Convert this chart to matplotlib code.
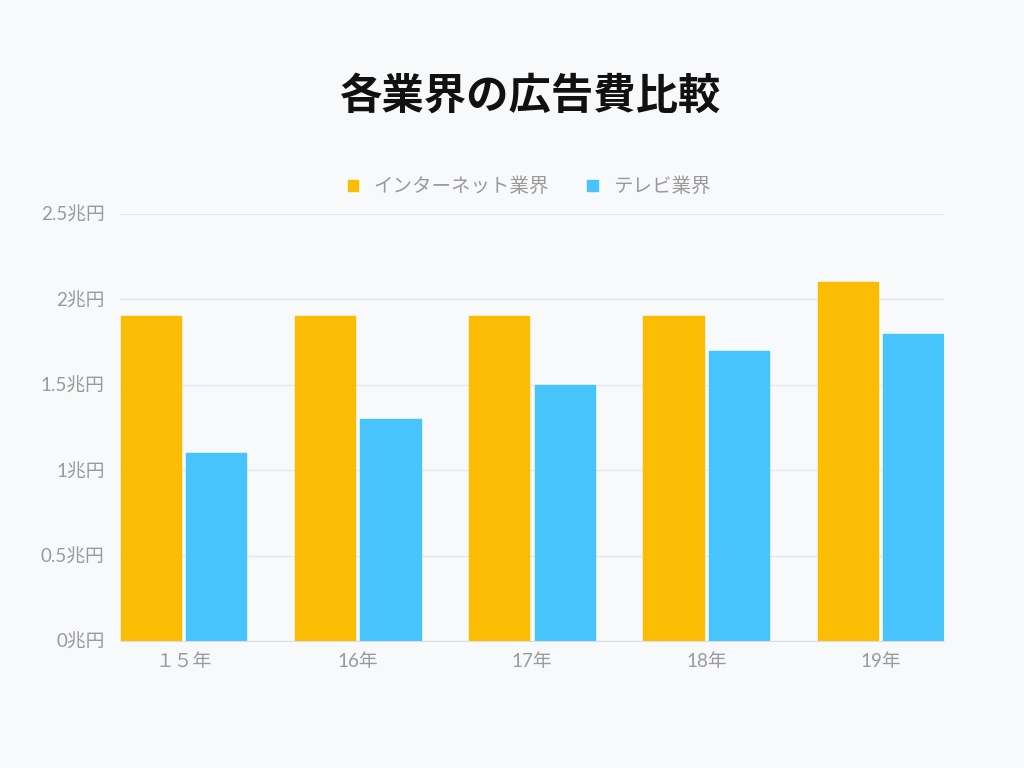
import numpy as np
import matplotlib
matplotlib.use('Agg')
import matplotlib.pyplot as plt

plt.rcParams['font.family'] = ['Lato', 'Noto Sans CJK JP', 'DejaVu Sans']

# データ
years = ['１５年', '16年', '17年', '18年', '19年']
internet = [1.9, 1.9, 1.9, 1.9, 2.1]
tv = [1.1, 1.3, 1.5, 1.7, 1.8]
series_names = ['インターネット業界', 'テレビ業界']
yticks = [0, 0.5, 1, 1.5, 2, 2.5]
ytick_labels = ['0兆円', '0.5兆円', '1兆円', '1.5兆円', '2兆円', '2.5兆円']

bg = '#f8f9fb'
gold = '#fabd04'
blue = '#48c4fd'
gray = '#9a9a9a'

fig = plt.figure(figsize=(10.24, 7.68), dpi=100, facecolor=bg)
ax = fig.add_axes([120 / 1024, 1 - 641 / 768, 824 / 1024, 427 / 768])
ax.set_facecolor(bg)

x = np.arange(len(years))
w = 0.345
off = 0.188
ax.bar(x - off, internet, width=w, color=gold, edgecolor=gold, linewidth=1.0,
       joinstyle='round', label=series_names[0], zorder=3)
ax.bar(x + off, tv, width=w, color=blue, edgecolor=blue, linewidth=1.0,
       joinstyle='round', label=series_names[1], zorder=3)

ax.set_xlim(-0.364, len(years) - 1 + 0.364)
ax.set_ylim(0, 2.5)
ax.set_yticks(yticks)
ax.set_yticklabels(ytick_labels)
ax.set_xticks(x)
ax.set_xticklabels(years)
ax.tick_params(axis='both', length=0, colors=gray, labelsize=13.5)
ax.tick_params(axis='y', pad=11)
ax.tick_params(axis='x', pad=9)
ax.grid(axis='y', color='#e6e7ea', linewidth=1, zorder=0)
for s in ['top', 'right', 'left']:
    ax.spines[s].set_visible(False)
ax.spines['bottom'].set_color('#dcdde0')
ax.spines['bottom'].set_zorder(4)

fig.text(531 / 1024, 1 - 97 / 768, '各業界の広告費比較', ha='center', va='center',
         fontsize=30.5, fontweight='bold', color='#111111',
         family=['Noto Sans CJK JP', 'DejaVu Sans'])

leg = fig.legend(loc='center', bbox_to_anchor=(529 / 1024, 1 - 186 / 768), ncol=2,
                 frameon=False, fontsize=14, handlelength=0.55, handleheight=0.55,
                 columnspacing=2.0, handletextpad=0.75)
for t in leg.get_texts():
    t.set_color(gray)

fig.savefig('out.png', dpi=100, facecolor=bg)
